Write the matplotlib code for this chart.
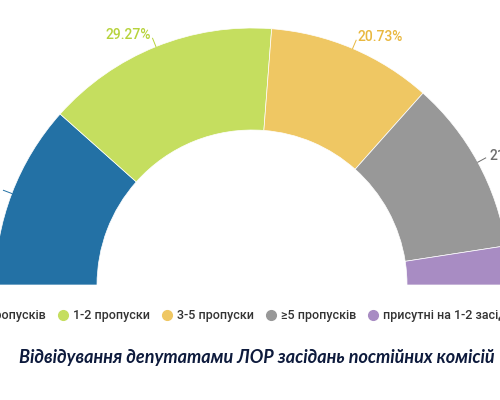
import numpy as np
import matplotlib
matplotlib.use("Agg")
import matplotlib.pyplot as plt
from matplotlib.lines import Line2D

# data (deputies by number of missed committee meetings)
categories = ["без пропусків", "1-2 пропуски", "3-5 пропуски", "≥5 пропусків", "присутні на 1-2 засіданнях"]
counts = [19, 24, 17, 18, 4]
pct_labels = ["23.17%", "29.27%", "20.73%", "21.95%", "4.88%"]
colors = ["#2371a5", "#c5de5f", "#efc763", "#989898", "#a88cc3"]
label_colors = ["#2371a5", "#b7d33c", "#e9b83f", "#6e6e6e", "#a88cc3"]
title = "Відвідування депутатами ЛОР засідань постійних комісій"

plt.rcParams["font.family"] = ["Roboto", "DejaVu Sans"]

fig = plt.figure(figsize=(5, 4), dpi=100)
ax = fig.add_axes([0, 0, 1, 1])

cx, cy = 252, 115
R = 257
W = 102

# half donut: add an invisible wedge equal to the total
vals = counts + [sum(counts)]
wedges, _ = ax.pie(vals, startangle=180, counterclock=False, radius=R,
                   center=(cx, cy), frame=True,
                   wedgeprops=dict(width=W, edgecolor="white", linewidth=0.5))
for w, c in zip(wedges, colors + ["none"]):
    w.set_facecolor(c)
wedges[-1].set_visible(False)

# percentage labels with short leader lines
for w, lab, lc in zip(wedges[:-1], pct_labels, label_colors):
    ang = np.deg2rad((w.theta1 + w.theta2) / 2)
    x0, y0 = cx + R * np.cos(ang), cy + R * np.sin(ang)
    x1, y1 = cx + (R + 9) * np.cos(ang), cy + (R + 9) * np.sin(ang)
    xt, yt = cx + (R + 13) * np.cos(ang), cy + (R + 13) * np.sin(ang)
    ax.plot([x0, x1], [y0, y1], color=lc, lw=0.7)
    ax.text(xt, yt, lab, color=lc, fontsize=10, fontweight="medium",
            ha="left" if np.cos(ang) > 0 else "right", va="center")

ax.set_xlim(0, 500)
ax.set_ylim(0, 400)
ax.set_aspect("equal")
ax.axis("off")

handles = [Line2D([], [], marker="o", ls="", markersize=7, color=c) for c in colors]
fig.legend(handles, categories, loc="center", ncol=5,
           bbox_to_anchor=(244 / 500, 1 - 316 / 400), frameon=False,
           fontsize=9, handletextpad=0.3, columnspacing=0.85,
           labelcolor="#333333", handlelength=1.0,
           prop=dict(family=["Roboto", "DejaVu Sans"], size=9, weight="medium"))

fig.text(257 / 500, 1 - 357 / 400, title, ha="center", va="center",
         fontsize=13, fontweight="bold", style="italic", color="#0d1a3c",
         family=["Lato", "DejaVu Sans"])

fig.savefig("out.png", dpi=100)
